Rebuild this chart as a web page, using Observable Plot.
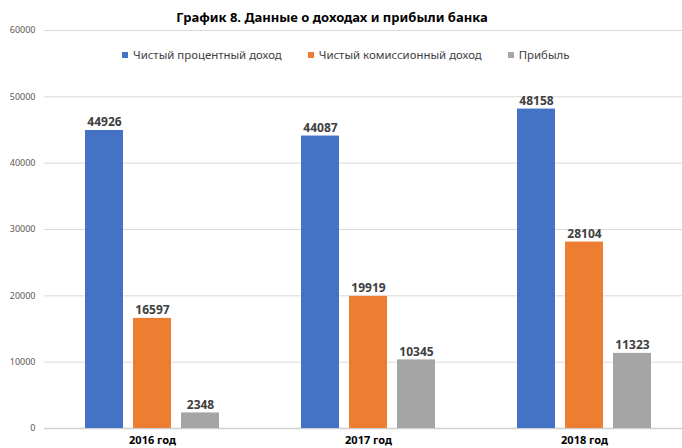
<!DOCTYPE html>
<html>
<head>
<meta charset="utf-8">
<script src="https://cdn.jsdelivr.net/npm/d3@7"></script>
<script src="https://cdn.jsdelivr.net/npm/@observablehq/plot@0.6"></script>
<style>
  html, body { margin: 0; padding: 0; background: #fff; }
  body { width: 682px; height: 448px; overflow: hidden; position: relative; font-family: "Noto Sans", "Open Sans", sans-serif; }
  #title { position: absolute; top: 8px; left: 0; width: 664px; line-height: 18px; font-size: 13px; font-weight: bold; color: #000; text-align: center; }
  #chart { position: absolute; top: 20px; left: 0; width: 682px; height: 428px; overflow: hidden; }
  #chart svg { max-width: none !important; }
  #legend { position: absolute; top: 47px; left: 122px; display: flex; gap: 26px; font-size: 11.4px; color: #404040; line-height: 16px; white-space: nowrap; }
  #legend .item { display: flex; align-items: center; }
  #legend .sw { width: 6px; height: 6px; margin-right: 5px; display: inline-block; }
  g[aria-label="fx-axis tick label"] text { font-weight: bold; }
</style>
</head>
<body>
<div id="chart"></div>
<div id="title">График 8. Данные о доходах и прибыли банка</div>
<div id="legend"></div>
<script>
const years = ["2016 год", "2017 год", "2018 год"];
const series = ["Чистый процентный доход", "Чистый комиссионный доход", "Прибыль"];
const netInterest = [44926, 44087, 48158];
const netCommission = [16597, 19919, 28104];
const profit = [2348, 10345, 11323];
const yTicks = [0, 10000, 20000, 30000, 40000, 50000, 60000];
const colors = ["#4472C4", "#ED7D31", "#A5A5A5"];

const seriesValues = [netInterest, netCommission, profit];
const data = years.flatMap((yr, i) => series.map((s, j) => ({year: yr, series: s, value: seriesValues[j][i]})));

const chart = Plot.plot({
  width: 692,
  height: 428,
  marginTop: 10,
  marginBottom: 20,
  marginLeft: 44,
  marginRight: 0,
  style: {fontFamily: '"Noto Sans", "Open Sans", sans-serif', background: "#fff", maxWidth: "none"},
  fx: {domain: years, padding: 0, label: null},
  x: {domain: series, paddingInner: 10 / 48, paddingOuter: 0.854, axis: null},
  y: {domain: [0, 60000], label: null},
  color: {domain: series, range: colors},
  marks: [
    Plot.gridY(yTicks, {stroke: "#d9d9d9", strokeOpacity: 1}),
    Plot.axisY(yTicks, {tickSize: 0, tickPadding: 9, label: null, fontSize: 9, fill: "#595959", tickFormat: d => String(d)}),
    Plot.ruleY([0], {stroke: "#d0d0d0", strokeWidth: 1.5}),
    Plot.barY(data, {fx: "year", x: "series", y: "value", fill: "series"}),
    Plot.text(data, {fx: "year", x: "series", y: "value", text: d => String(d.value), lineAnchor: "bottom", dy: -4, fontSize: 12, fontWeight: "bold", fill: "#404040"}),
    Plot.axisFx({anchor: "bottom", tickSize: 0, tickPadding: 8, label: null, fontSize: 11, fontWeight: "bold", fill: "#000"})
  ]
});
document.getElementById("chart").appendChild(chart);

const legend = document.getElementById("legend");
series.forEach((s, j) => {
  const item = document.createElement("div");
  item.className = "item";
  const sw = document.createElement("span");
  sw.className = "sw";
  sw.style.background = colors[j];
  item.appendChild(sw);
  item.appendChild(document.createTextNode(s));
  legend.appendChild(item);
});
</script>
</body>
</html>
